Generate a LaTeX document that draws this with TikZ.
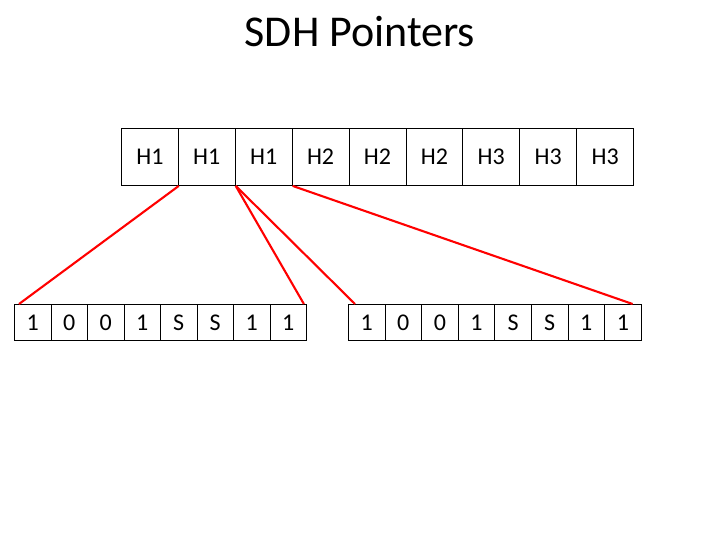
\documentclass[tikz,border=0pt]{standalone}
\usepackage{fontspec}
\setmainfont{Carlito}
\begin{document}
\begin{tikzpicture}[x=1pt,y=-1pt,
  topcell/.style={draw=black,line width=0.9pt,minimum width=56.9pt,minimum height=57pt,inner sep=0pt,font=\fontsize{24}{28}\selectfont,anchor=north west},
  bitcell/.style={draw=black,line width=0.9pt,minimum width=36.5pt,minimum height=36pt,inner sep=0pt,font=\fontsize{24}{28}\selectfont,anchor=north west},
  link/.style={draw=red,line width=2.1pt}]
\useasboundingbox (0,0) rectangle (720,540);
\node[font=\fontsize{44}{50}\selectfont] (title) at (360,32) {SDH Pointers};
% top row
\foreach \t [count=\i] in {H1,H1,H1,H2,H2,H2,H3,H3,H3}
  \node[topcell] (t\i) at ({121+56.9*(\i-1)},128) {\t};
% bottom left row
\foreach \t [count=\i] in {1,0,0,1,S,S,1,1}
  \node[bitcell] (b\i) at ({14+36.5*(\i-1)},304) {\t};
% bottom right row
\foreach \t [count=\i] in {1,0,0,1,S,S,1,1}
  \node[bitcell] (c\i) at ({348+36.6*(\i-1)},304) {\t};
% connectors
\draw[link] (t1.south east) -- ([xshift=5pt]b1.north west);
\draw[link] (t2.south east) -- ([xshift=-3pt]b8.north east);
\draw[link] (t2.south east) -- ([xshift=7pt]c1.north west);
\draw[link] (t3.south east) -- ([xshift=-9pt]c8.north east);
\end{tikzpicture}
\end{document}
